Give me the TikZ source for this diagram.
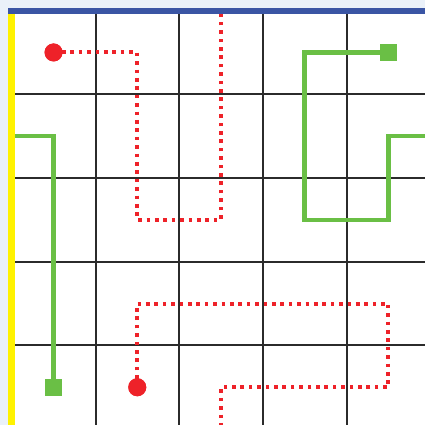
\documentclass[tikz,border=0pt]{standalone}
\usetikzlibrary{shapes.geometric}
\definecolor{bgblue}{HTML}{EAF1F9}
\definecolor{barblue}{HTML}{3A55A4}
\definecolor{baryellow}{HTML}{FFF200}
\definecolor{pathred}{HTML}{EE2229}
\definecolor{pathgreen}{HTML}{6ABF45}
\definecolor{gridgray}{HTML}{2B2B2B}
\tikzset{
  gridline/.style={draw=gridgray, line width=2pt},
  redpath/.style={draw=pathred, line width=4pt, dash pattern=on 3.6pt off 4.8pt},
  greenpath/.style={draw=pathgreen, line width=4.5pt},
  reddot/.style={circle, fill=pathred, minimum size=18pt, inner sep=0pt},
  greensq/.style={rectangle, fill=pathgreen, minimum size=17pt, inner sep=0pt},
}
\begin{document}
\begin{tikzpicture}[x=1pt,y=-1pt]
\useasboundingbox (0,0) rectangle (425,425);
\fill[bgblue] (0,0) rectangle (425,425);
\fill[white] (8,8) rectangle (425,425);
% grid
\foreach \x in {95.5,179.2,262.9,346.6} \draw[gridline] (\x,14) -- (\x,425);
\foreach \y in {94.3,178,261.7,345.4} \draw[gridline] (15,\y) -- (425,\y);
% coordinates (cell centres)
\coordinate (r1a) at (137.25,52.45);
\coordinate (r1b) at (137.25,219.85);
\coordinate (r1c) at (220.95,219.85);
\coordinate (r1d) at (220.95,12);
\coordinate (r2a) at (137.25,303.55);
\coordinate (r2b) at (388.35,303.55);
\coordinate (r2c) at (388.35,387.25);
\coordinate (r2d) at (220.95,387.25);
\coordinate (r2e) at (220.95,425);
\coordinate (g1a) at (304.65,52.45);
\coordinate (g1b) at (304.65,219.85);
\coordinate (g1c) at (388.35,219.85);
\coordinate (g1d) at (388.35,136.15);
\coordinate (g1e) at (425,136.15);
\coordinate (g2a) at (12,136.15);
\coordinate (g2b) at (53.55,136.15);
% endpoint nodes
\node[reddot] (rs1) at (53.55,52.45) {};
\node[reddot] (rs2) at (137.25,387.25) {};
\node[greensq] (gs1) at (388.35,52.45) {};
\node[greensq] (gs2) at (53.55,387.25) {};
% paths
\draw[redpath] (rs1.center) -- (r1a) -- (r1b) -- (r1c) -- (r1d);
\draw[redpath] (rs2.center) -- (r2a) -- (r2b) -- (r2c) -- (r2d) -- (r2e);
\draw[greenpath] (gs1.center) -- (g1a) -- (g1b) -- (g1c) -- (g1d) -- (g1e);
\draw[greenpath] (g2a) -- (g2b) -- (gs2.center);
% redraw endpoint markers on top
\node[reddot] at (rs1) {};
\node[reddot] at (rs2) {};
\node[greensq] at (gs1) {};
\node[greensq] at (gs2) {};
% bars
\fill[baryellow] (8,14) rectangle (15,425);
\fill[barblue] (8,8) rectangle (425,14);
\end{tikzpicture}
\end{document}
